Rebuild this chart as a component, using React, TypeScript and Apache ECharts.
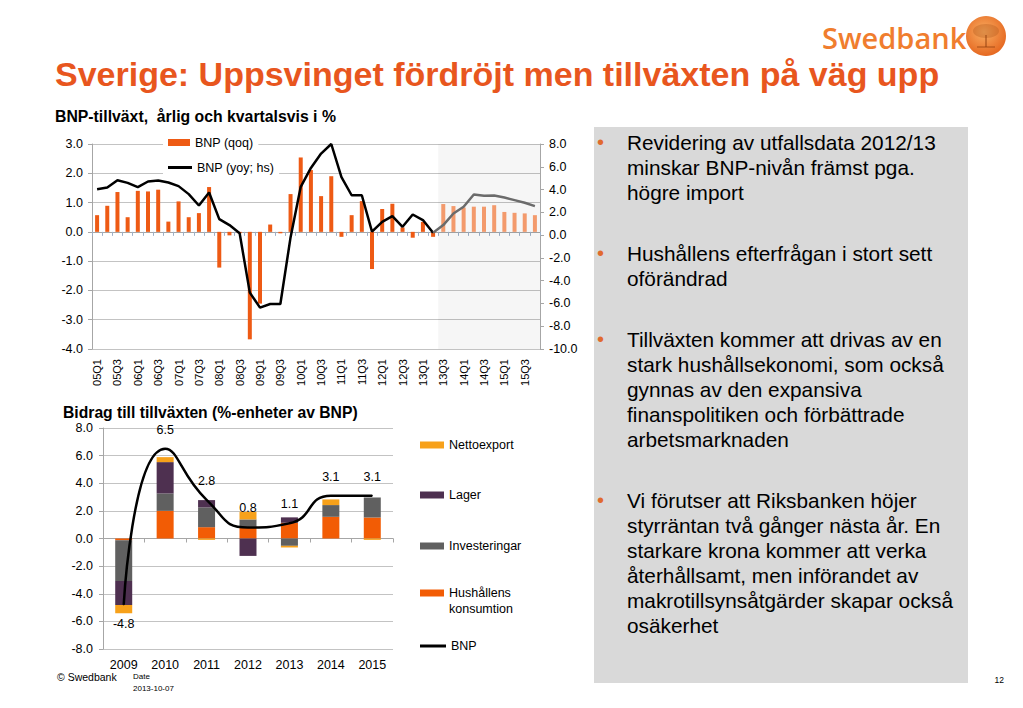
import React, { useEffect, useRef } from "react";
import * as echarts from "echarts";

const FONT = "'Liberation Sans', Arial, Helvetica, sans-serif";

// ---------- top chart data ----------
const quarters = [
  "05Q1", "05Q2", "05Q3", "05Q4", "06Q1", "06Q2", "06Q3", "06Q4",
  "07Q1", "07Q2", "07Q3", "07Q4", "08Q1", "08Q2", "08Q3", "08Q4",
  "09Q1", "09Q2", "09Q3", "09Q4", "10Q1", "10Q2", "10Q3", "10Q4",
  "11Q1", "11Q2", "11Q3", "11Q4", "12Q1", "12Q2", "12Q3", "12Q4",
  "13Q1", "13Q2", "13Q3", "13Q4", "14Q1", "14Q2", "14Q3", "14Q4",
  "15Q1", "15Q2", "15Q3", "15Q4",
];
const qoq = [
  0.57, 0.89, 1.36, 0.5, 1.4, 1.38, 1.44, 0.35,
  1.04, 0.5, 0.64, 1.53, -1.22, -0.12, -0.05, -3.67,
  -2.45, 0.25, -0.05, 1.29, 2.54, 2.11, 1.22, 1.9,
  -0.17, 0.57, 1.05, -1.27, 0.78, 0.96, 0.15, -0.2,
  0.34, -0.17, 0.95, 0.88, 0.83, 0.86, 0.86, 0.91,
  0.68, 0.65, 0.63, 0.57,
];
const yoy = [
  4.03, 4.18, 4.82, 4.59, 4.21, 4.71, 4.8, 4.62,
  4.3, 3.6, 2.6, 3.74, 1.4, 0.88, 0.16, -5.05,
  -6.37, -6.05, -6.05, -0.2, 4.24, 5.9, 7.16, 8.0,
  5.1, 3.5, 3.5, 0.3, 1.17, 1.67, 0.73, 1.81,
  1.32, 0.2, 0.88, 1.9, 2.49, 3.57, 3.45, 3.48,
  3.3, 3.07, 2.84, 2.54,
];
const FORECAST_START = "13Q3";
const FORECAST_END = "15Q4";

// ---------- bottom chart data ----------
const years = ["2009", "2010", "2011", "2012", "2013", "2014", "2015"];
const hushall = [-0.12, 2.0, 0.82, 0.85, 1.14, 1.57, 1.52];
const invest = [-2.96, 1.26, 1.43, 0.53, -0.53, 0.85, 1.45];
const lager = [-1.74, 2.27, 0.53, -1.26, 0.39, 0, 0];
const netto = [-0.6, 0.36, -0.1, 0.55, -0.12, 0.41, -0.1];
const bnp = [-4.8, 6.5, 2.8, 0.8, 1.1, 3.1, 3.1];

// ---------- texts ----------
const TITLE = "Sverige: Uppsvinget fördröjt men tillväxten på väg upp";
const SUB1 = "BNP-tillväxt,  årlig och kvartalsvis i %";
const SUB2 = "Bidrag till tillväxten (%-enheter av BNP)";
const bullets = [
  "Revidering av utfallsdata 2012/13\nminskar BNP-nivån främst pga.\nhögre import",
  "Hushållens efterfrågan i stort sett\noförändrad",
  "Tillväxten kommer att drivas av en\nstark hushållsekonomi, som också\ngynnas av den expansiva\nfinanspolitiken och förbättrade\narbetsmarknaden",
  "Vi förutser att Riksbanken höjer\nstyrräntan två gånger nästa år. En\nstarkare krona kommer att verka\nåterhållsamt, men införandet av\nmakrotillsynsåtgärder skapar också\nosäkerhet",
];
const bulletTops = [129.5, 240.5, 326.5, 487.5];

const ORANGE = "#EE5A14";
const ORANGE_LIGHT = "#F39A6C";
const GRID = "#C3C3C3";
const AXIS = "#A6A6A6";

export default function App() {
  const ref = useRef<HTMLDivElement>(null);

  useEffect(() => {
    if (!ref.current) return;
    const chart = echarts.init(ref.current, null, { renderer: "svg" });
    const fcIdx = quarters.indexOf(FORECAST_START);
    const fmt = (v: number) => v.toFixed(1);
    const axisLabel = { fontSize: 12.5, color: "#000", fontFamily: FONT, formatter: fmt, margin: 9 };

    const legendText = { fontSize: 12.5, color: "#000", fontFamily: FONT };
    const singleLegend = (
      name: string, left: number, top: number, w: number, h: number, extra?: any
    ) => ({
      data: [{ name, icon: "rect" }],
      orient: "vertical",
      left,
      top,
      padding: 0,
      itemWidth: w,
      itemHeight: h,
      selectedMode: false,
      textStyle: { ...legendText },
      ...(extra || {}),
    });

    const option: any = {
      animation: false,
      textStyle: { fontFamily: FONT },
      grid: [
        { left: 92, top: 144, width: 448, height: 205 },
        { left: 103, top: 428, width: 290, height: 221 },
      ],
      xAxis: [
        {
          gridIndex: 0, type: "category", data: quarters, position: "bottom",
          axisLine: { onZero: false, show: false },
          axisTick: { show: false },
          axisLabel: { interval: 1, rotate: 90, fontSize: 11, color: "#000", fontFamily: FONT, margin: 10 },
          splitLine: { show: false },
        },
        {
          gridIndex: 0, type: "category", data: quarters, position: "bottom",
          axisLine: { onZero: true, onZeroAxisIndex: 0, lineStyle: { color: AXIS } },
          axisTick: { show: true, interval: 0, length: 4, lineStyle: { color: "#9DB0C8" } },
          axisLabel: { show: false },
          splitLine: { show: false },
        },
        {
          gridIndex: 1, type: "category", data: years, position: "bottom",
          axisLine: { onZero: false, show: false },
          axisTick: { show: false },
          axisLabel: { fontSize: 12.5, color: "#000", fontFamily: FONT, margin: 9 },
          splitLine: { show: false },
        },
        {
          gridIndex: 1, type: "category", data: years, position: "bottom",
          axisLine: { onZero: true, lineStyle: { color: AXIS } },
          axisTick: { show: true, length: 4, lineStyle: { color: AXIS } },
          axisLabel: { show: false },
          splitLine: { show: false },
        },
      ],
      yAxis: [
        {
          gridIndex: 0, type: "value", min: -4, max: 3, interval: 1, position: "left",
          axisLine: { show: true, lineStyle: { color: AXIS } },
          axisTick: { show: true, length: 4, lineStyle: { color: AXIS } },
          axisLabel,
          splitLine: { lineStyle: { color: GRID } },
        },
        {
          gridIndex: 0, type: "value", min: -10, max: 8, interval: 2, position: "right",
          axisLine: { show: true, lineStyle: { color: AXIS } },
          axisTick: { show: true, length: 4, lineStyle: { color: AXIS } },
          axisLabel,
          splitLine: { show: false },
        },
        {
          gridIndex: 1, type: "value", min: -8, max: 8, interval: 2, position: "left",
          axisLine: { show: true, lineStyle: { color: AXIS } },
          axisTick: { show: true, length: 4, lineStyle: { color: AXIS } },
          axisLabel: { ...axisLabel, margin: 10 },
          splitLine: { lineStyle: { color: GRID } },
        },
      ],
      legend: [
        singleLegend("BNP (qoq)", 163, 133, 22, 7, {
          backgroundColor: "#fff", padding: [3, 5, 3, 5],
        }),
        singleLegend("BNP (yoy; hs)", 163, 158, 24, 3, {
          backgroundColor: "#fff", padding: [3, 5, 3, 5],
        }),
        singleLegend("Nettoexport", 420, 438.5, 24, 7),
        singleLegend("Lager", 420, 488.5, 24, 7),
        singleLegend("Investeringar", 420, 539.5, 24, 7),
        singleLegend("Hushållens konsumtion", 420, 569, 24, 7, {
          formatter: (n: string) => "\n" + n.replace(" ", "\n"),
          textStyle: { ...legendText, lineHeight: 16 },
        }),
        singleLegend("BNP", 420, 639.5, 26, 3),
      ],
      series: [
        {
          name: "BNP (qoq)", type: "bar", xAxisIndex: 0, yAxisIndex: 0, barWidth: 4,
          data: qoq.map((v, i) => ({ value: v, itemStyle: { color: i >= fcIdx ? ORANGE_LIGHT : ORANGE } })),
          itemStyle: { color: ORANGE },
          markArea: {
            silent: true,
            itemStyle: { color: "rgba(0,0,0,0.035)" },
            data: [[{ xAxis: FORECAST_START }, { xAxis: FORECAST_END }]],
          },
        },
        {
          name: "BNP (yoy; hs)", type: "line", xAxisIndex: 0, yAxisIndex: 1, symbol: "none",
          data: yoy.map((v, i) => (i <= fcIdx - 1 ? v : null)),
          lineStyle: { color: "#000", width: 2.5 },
          itemStyle: { color: "#000" },
        },
        {
          name: "BNP (yoy; prognos)", type: "line", xAxisIndex: 0, yAxisIndex: 1, symbol: "none",
          data: yoy.map((v, i) => (i >= fcIdx - 1 ? v : null)),
          lineStyle: { color: "#6B6B6B", width: 2.5 },
          itemStyle: { color: "#6B6B6B" },
        },
        {
          name: "Hushållens konsumtion", type: "bar", stack: "bidrag", xAxisIndex: 2, yAxisIndex: 2,
          barWidth: 17, data: hushall, itemStyle: { color: "#F25C05" },
        },
        {
          name: "Investeringar", type: "bar", stack: "bidrag", xAxisIndex: 2, yAxisIndex: 2,
          barWidth: 17, data: invest, itemStyle: { color: "#606060" },
        },
        {
          name: "Lager", type: "bar", stack: "bidrag", xAxisIndex: 2, yAxisIndex: 2,
          barWidth: 17, data: lager, itemStyle: { color: "#4E3050" },
        },
        {
          name: "Nettoexport", type: "bar", stack: "bidrag", xAxisIndex: 2, yAxisIndex: 2,
          barWidth: 17, data: netto, itemStyle: { color: "#F7A11A" },
        },
        {
          name: "BNP", type: "line", xAxisIndex: 2, yAxisIndex: 2,
          symbol: "circle", symbolSize: 1, showSymbol: true, smooth: 0.55,
          data: bnp.map((v) => ({ value: v, label: { position: v < 0 ? "bottom" : "top" } })),
          lineStyle: { color: "#000", width: 2.5 },
          itemStyle: { color: "#000" },
          label: {
            show: true, distance: 12, fontSize: 12.5, color: "#000", fontFamily: FONT,
            formatter: (p: any) => Number(p.value).toFixed(1),
          },
          labelLayout: { hideOverlap: false },
          z: 5,
        },
      ],
      graphic: [
        {
          type: "rect", shape: { x: 594, y: 127, width: 374, height: 556 },
          style: { fill: "#D9D9D9" }, z: -10,
        },
        {
          type: "text", x: 55, y: 74,
          style: { text: TITLE, fill: "#E8561E", fontSize: 34, fontWeight: "bold", fontFamily: FONT, verticalAlign: "middle" },
        },
        {
          type: "text", x: 55, y: 116,
          style: { text: SUB1, fill: "#000", fontSize: 15.8, fontWeight: "bold", fontFamily: FONT, verticalAlign: "middle" },
        },
        {
          type: "text", x: 63, y: 412,
          style: { text: SUB2, fill: "#000", fontSize: 15.7, fontWeight: "bold", fontFamily: FONT, verticalAlign: "middle" },
        },
        ...bullets.flatMap((t, i) => [
          {
            type: "text", x: 597, y: bulletTops[i],
            style: { text: "•", fill: "#E06A2E", fontSize: 20, fontFamily: FONT, lineHeight: 25, verticalAlign: "top" },
          },
          {
            type: "text", x: 627, y: bulletTops[i],
            style: { text: t, fill: "#000", fontSize: 20.8, fontFamily: FONT, lineHeight: 25, verticalAlign: "top" },
          },
        ]),
        {
          type: "text", x: 57, y: 677,
          style: { text: "© Swedbank", fill: "#000", fontSize: 10.5, fontFamily: FONT, verticalAlign: "middle" },
        },
        {
          type: "text", x: 133, y: 676,
          style: { text: "Date", fill: "#000", fontSize: 8, fontFamily: FONT, verticalAlign: "middle" },
        },
        {
          type: "text", x: 133, y: 688,
          style: { text: "2013-10-07", fill: "#000", fontSize: 8, fontFamily: FONT, verticalAlign: "middle" },
        },
        {
          type: "text", x: 1004, y: 680,
          style: { text: "12", fill: "#000", fontSize: 8.5, fontFamily: FONT, align: "right", verticalAlign: "middle" },
        },
        // logo
        {
          type: "text", x: 822, y: 37,
          style: { text: "Swedbank", fill: "#F07D2E", fontSize: 29, fontWeight: 600, fontFamily: "'Open Sans', sans-serif", verticalAlign: "middle" },
        },
        {
          type: "circle", shape: { cx: 986, cy: 36, r: 20 },
          style: {
            fill: new echarts.graphic.RadialGradient(0.45, 0.4, 0.65, [
              { offset: 0, color: "#F9AE62" },
              { offset: 1, color: "#E4631C" },
            ]),
          },
        },
        {
          type: "ellipse", shape: { cx: 986, cy: 31, rx: 13, ry: 7 },
          style: { fill: "rgba(175,85,25,0.35)" },
        },
        {
          type: "rect", shape: { x: 985, y: 35, width: 2, height: 12 },
          style: { fill: "rgba(150,65,15,0.5)" },
        },
        {
          type: "rect", shape: { x: 977, y: 46, width: 18, height: 2 },
          style: { fill: "rgba(150,65,15,0.4)" },
        },
      ],
    };

    chart.setOption(option);
    return () => chart.dispose();
  }, []);

  return (
    <div
      ref={ref}
      style={{ position: "fixed", left: 0, top: 0, width: 1023, height: 708, background: "#fff" }}
    />
  );
}
